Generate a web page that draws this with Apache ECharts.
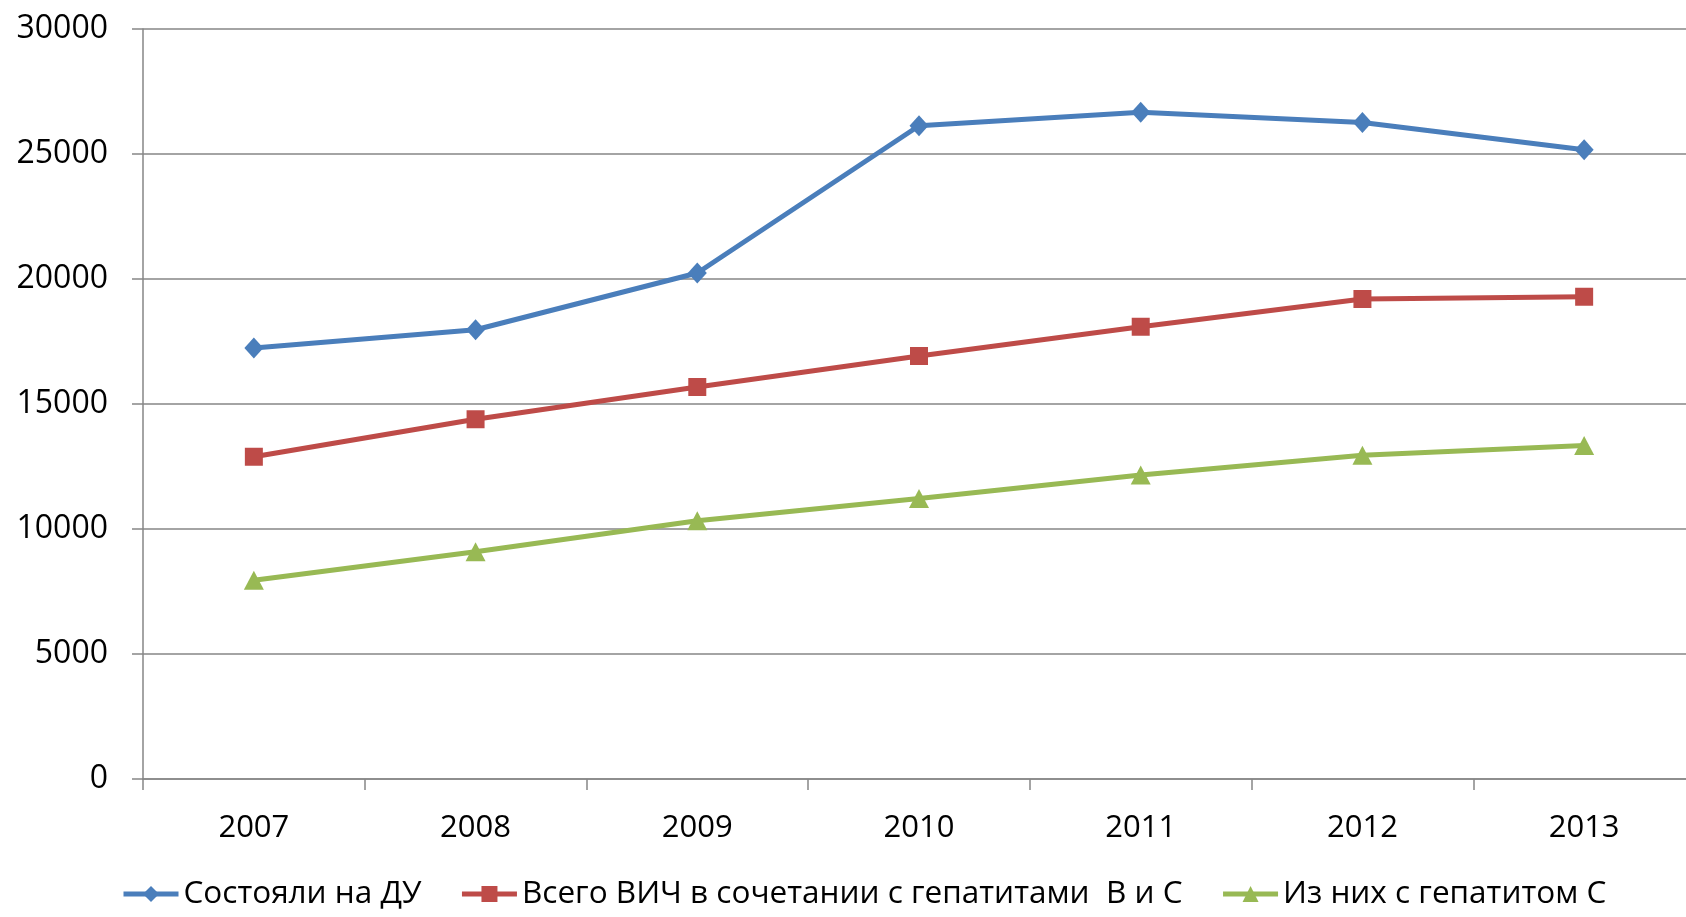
<!DOCTYPE html>
<html>
<head>
<meta charset="utf-8">
<title>ВИЧ и гепатиты</title>
<script src="https://cdn.jsdelivr.net/npm/echarts@6/dist/echarts.min.js"></script>
<style>
  html, body { margin: 0; padding: 0; background: #fff; }
  #chart { width: 1686px; height: 917px; }
</style>
</head>
<body>
<div id="chart"></div>
<script>
// данные
const years = ['2007', '2008', '2009', '2010', '2011', '2012', '2013'];
const seriesNames = ['Состояли на ДУ', 'Всего ВИЧ в сочетании с гепатитами  В и С', 'Из них с гепатитом С'];
const dispensary = [17240, 17970, 20240, 26130, 26670, 26260, 25170];
const hivHepBC = [12890, 14390, 15680, 16920, 18090, 19200, 19290];
const hepC = [7950, 9090, 10330, 11220, 12160, 12950, 13340];

const colors = ['#4A7EBB', '#BE4B48', '#98B954'];
const symbols = ['diamond', 'rect', 'triangle'];

const chart = echarts.init(document.getElementById('chart'));

const makeSeries = (name, data, i) => ({
  name: name,
  type: 'line',
  data: data,
  symbol: symbols[i],
  symbolSize: i === 0 ? [19, 21] : (i === 1 ? 18 : [20, 19]),
  showAllSymbol: true,
  lineStyle: { color: colors[i], width: 5 },
  itemStyle: { color: colors[i] },
  emphasis: { disabled: true },
  animation: false
});

chart.setOption({
  animation: false,
  textStyle: { fontFamily: 'Open Sans' },
  grid: {
    left: 143, right: -9, top: 29, bottom: 138,
    containLabel: false,
    outerBoundsMode: 'none'
  },
  legend: {
    left: 121,
    top: 878,
    padding: 0,
    itemWidth: 55,
    itemHeight: 20,
    itemGap: 38,
    data: seriesNames,
    lineStyle: { width: 5 },
    textStyle: { fontSize: 31.5, color: '#000', fontFamily: 'Open Sans' }
  },
  xAxis: {
    type: 'category',
    data: years,
    boundaryGap: true,
    axisLine: { lineStyle: { color: '#868686', width: 1.5 } },
    axisTick: { show: true, length: 11, lineStyle: { color: '#868686', width: 1.5 } },
    axisLabel: { fontSize: 31, color: '#000', margin: 34 }
  },
  yAxis: {
    type: 'value',
    min: 0,
    max: 30000,
    interval: 5000,
    axisLine: { show: true, lineStyle: { color: '#868686', width: 1.5 } },
    axisTick: { show: true, length: 11, inside: false, lineStyle: { color: '#868686', width: 1.5 } },
    axisLabel: { fontSize: 32, color: '#000', margin: 35, formatter: v => String(v) },
    splitLine: { lineStyle: { color: '#868686', width: 1.5 } }
  },
  series: [
    makeSeries(seriesNames[0], dispensary, 0),
    makeSeries(seriesNames[1], hivHepBC, 1),
    makeSeries(seriesNames[2], hepC, 2)
  ]
});
</script>
</body>
</html>
